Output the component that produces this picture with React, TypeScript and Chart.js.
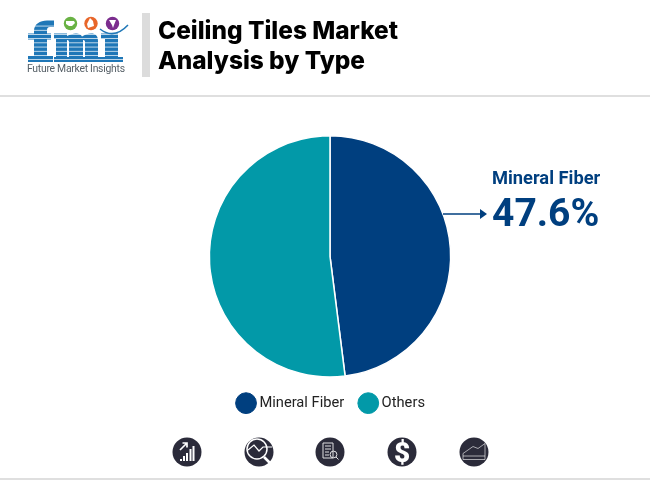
import React, { useEffect, useRef } from "react";
import { Chart, registerables } from "chart.js";

Chart.register(...registerables);

const categories = ["Mineral Fiber", "Others"];
const shares = [48, 52];
const sliceColors = ["#003f7f", "#0299a8"];
const titleLines = ["Ceiling Tiles Market", "Analysis by Type"];
const calloutLabel = "Mineral Fiber";
const calloutValue = "47.6%";
const brandName = "Future Market Insights";
const FONT = "Roboto, sans-serif";

const abs = (left: number, top: number, extra: React.CSSProperties = {}): React.CSSProperties => ({
  position: "absolute",
  left,
  top,
  ...extra,
});

function Logo() {
  const stripes = [];
  for (let y = 25.7; y < 62; y += 4.2) stripes.push(y);
  const blue = "#1f77b7";
  return (
    <svg style={abs(0, 0)} width={140} height={90} viewBox="0 0 140 90">
      <g fill={blue}>
        <path d="M34 58V31C34 24 40 20.500 47 20.500H54V27H50C47.500 27 47 28 47 31V58Z" />
        <rect x={28} y={33.500} width={23} height={6} />
        <rect x={28} y={56} width={25} height={6} />
        <path d="M54 33.500H67V36C70 34.500 73 33.500 76 33.500C79 33.500 81 34.500 82 36.500C85 34.500 88 33.500 91 33.500C96 33.500 98 36 98 41V57H100V62H84V57H85V42C85 41 84.500 40 83.500 40C83 40 83 40 83 41V57H84V62H68V57H69V42C69 41 68.500 40 67.500 40C67 40 67 40 67 41V57H68V62H54V57H56V39H54Z" />
        <path d="M101 33.500H118V57H123V62H100V57H105V39H101Z" />
      </g>
      {stripes.map((y) => (
        <rect key={y} x={24} y={y} width={102} height={0.7} fill="#ffffff" />
      ))}
      <circle cx={70.5} cy={23.5} r={6.7} fill="#69b244" />
      <path d="M66 21h8l1 2-3 3h-3l-3 -2z" fill="#ffffff" />
      <circle cx={91} cy={23.5} r={6.7} fill="#e8662a" />
      <path d="M90 18l3 3 1 5-6 2-1 -4z" fill="#ffffff" />
      <circle cx={112.5} cy={23.5} r={6.7} fill="#7b2d8e" />
      <path d="M109 20h7l-2 5-1 3-1-3z" fill="#ffffff" />
      <path d="M100 29q14 11 28 -4" fill="none" stroke={blue} strokeWidth={1.5} />
      <text x={27} y={72} fontFamily={FONT} fontSize={10.4} fill="#555f66" textLength={98}>{brandName}</text>
    </svg>
  );
}

const iconX = [187, 259, 330, 402, 474];

function Icons() {
  const ink = { fill: "none", stroke: "#ffffff" };
  return (
    <svg style={abs(0, 430)} width={650} height={45} viewBox="0 430 650 45">
      {iconX.map((x) => (
        <circle key={x} cx={x} cy={452} r={14.5} fill="#2b2b3a" />
      ))}
      <g {...ink} strokeWidth={1.7}>
        <path d="M181 461v-2M184 461v-5M187 461v-8M190.5 461v-12M193.5 461v-15" strokeWidth={2} />
        <path d="M180 450l7 -7M182.5 443h4.5v4.5" />
      </g>
      <g {...ink}>
        <circle cx={257} cy={449} r={10} strokeWidth={1.5} />
        <path d="M248 450l6 -5 5 6 4 -4h9" strokeWidth={1.2} />
        <path d="M264 457l7 7" strokeWidth={2.6} />
      </g>
      <g {...ink} strokeWidth={1} opacity={0.85}>
        <path d="M323 443h10v15h-10zM325 446h6M325 449h6M325 452h4M325 455h4" />
        <circle cx={333.5} cy={454.5} r={3.4} />
        <path d="M336 457l2.5 2.5" />
      </g>
      <text x={402} y={462} textAnchor="middle" fontFamily={FONT} fontWeight={900} fontSize={28} fill="#ffffff">$</text>
      <g {...ink} strokeWidth={0.8} opacity={0.75}>
        <path d="M463 459.500h22v-16l-7 5 -5 -2 -10 7zM463 456h22" />
      </g>
    </svg>
  );
}

const legendNudge = {
  id: "legendNudge",
  afterLayout(chart: any) {
    chart.legend.left += 2.5;
    chart.legend.right += 2.5;
  },
};

export default function App() {
  const ref = useRef<HTMLCanvasElement>(null);
  useEffect(() => {
    if (!ref.current) return;
    const baseLabels = Chart.overrides.pie.plugins.legend.labels.generateLabels;
    const chart = new Chart(ref.current, {
      type: "pie",
      data: {
        labels: categories,
        datasets: [
          {
            data: shares,
            backgroundColor: sliceColors,
            borderColor: "#ffffff",
            borderWidth: 1.5,
          },
        ],
      },
      plugins: [legendNudge],
      options: {
        animation: false,
        responsive: false,
        devicePixelRatio: 1,
        layout: { padding: { left: 10, right: 0, top: 135, bottom: 59.5 } },
        plugins: {
          tooltip: { enabled: false },
          legend: {
            position: "bottom",
            labels: {
              usePointStyle: true,
              pointStyle: "circle",
              boxWidth: 12,
              boxHeight: 15,
              padding: 18,
              color: "#222222",
              font: { family: FONT, size: 14.7 },
              generateLabels: (c: Chart) =>
                baseLabels(c).map((item: any, i: number) => ({
                  ...item,
                  strokeStyle: sliceColors[i],
                  lineWidth: 1,
                })),
            },
          },
        },
      },
    });
    return () => chart.destroy();
  }, []);

  return (
    <div style={abs(0, 0, { width: 650, height: 480, background: "#fff", overflow: "hidden" })}>
      <canvas ref={ref} width={650} height={480} style={abs(0, 0, { width: 650, height: 480 })} />
      <Logo />
      <div style={abs(142, 13, { width: 8, height: 64, background: "#dcdcdc" })} />
      <div style={abs(158, 15, { font: `800 24.4px/30px Inter, ${FONT}`, color: "#000", whiteSpace: "nowrap" })}>
        {titleLines.map((t) => (
          <div key={t}>{t}</div>
        ))}
      </div>
      <div style={abs(0, 95, { width: 650, height: 2, background: "#dfdfdf" })} />
      <div style={abs(492, 167, { font: `700 18.3px/22px ${FONT}`, color: "#003f7f", whiteSpace: "nowrap" })}>{calloutLabel}</div>
      <div style={abs(492, 190, { font: `700 39px/46px ${FONT}`, color: "#003f7f", whiteSpace: "nowrap" })}>{calloutValue}</div>
      <svg style={abs(440, 205)} width={50} height={18}>
        <path d="M3 9H44" stroke="#003f7f" strokeWidth={1.5} />
        <path d="M47 9l-7 -5v10z" fill="#003f7f" />
      </svg>
      <Icons />
      <div style={abs(0, 478, { width: 650, height: 2, background: "#dfdfdf" })} />
    </div>
  );
}
